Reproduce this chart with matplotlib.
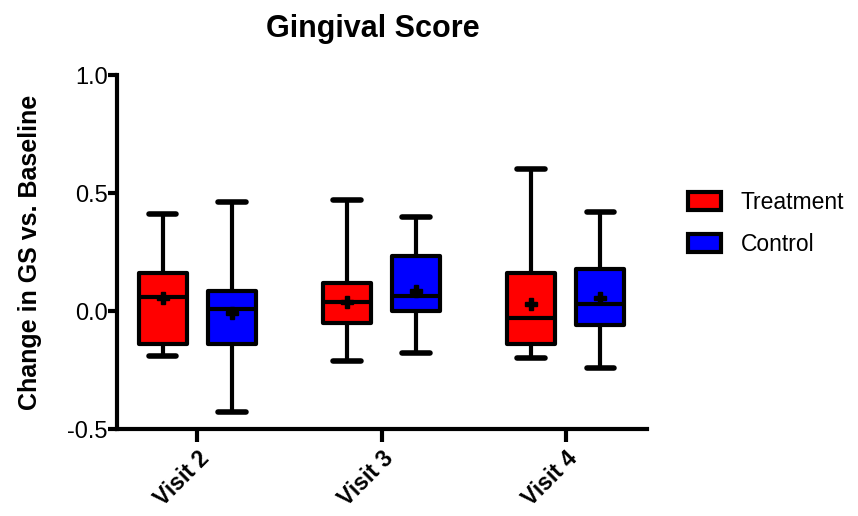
import numpy as np
import matplotlib.pyplot as plt
from matplotlib.patches import Patch

plt.rcParams['font.family'] = ['Liberation Sans', 'DejaVu Sans']

# --- data ---
visits = ["Visit 2", "Visit 3", "Visit 4"]
groups = ["Treatment", "Control"]
colors = ["#FF0000", "#0000FF"]

t_min = [-0.19, -0.21, -0.20]
t_q1 = [-0.14, -0.05, -0.14]
t_med = [0.06, 0.04, -0.03]
t_q3 = [0.16, 0.12, 0.16]
t_max = [0.41, 0.47, 0.60]
t_mean = [0.055, 0.04, 0.03]

c_min = [-0.43, -0.18, -0.24]
c_q1 = [-0.14, 0.00, -0.06]
c_med = [0.01, 0.065, 0.03]
c_q3 = [0.085, 0.235, 0.18]
c_max = [0.46, 0.40, 0.42]
c_mean = [-0.01, 0.085, 0.055]


def make_stats(mn, q1, med, q3, mx, mean):
    return [dict(whislo=a, q1=b, med=c, q3=d, whishi=e, mean=f, fliers=[])
            for a, b, c, d, e, f in zip(mn, q1, med, q3, mx, mean)]


stats = [make_stats(t_min, t_q1, t_med, t_q3, t_max, t_mean),
         make_stats(c_min, c_q1, c_med, c_q3, c_max, c_mean)]

fig = plt.figure(figsize=(8.58, 5.16), dpi=100)
ax = fig.add_axes([117 / 858, 1 - 429 / 516, 530 / 858, 354 / 516])

lw = 3.0
x = np.arange(len(visits))
offsets = [-0.1875, 0.1875]
for st, off, col in zip(stats, offsets, colors):
    ax.bxp(st, positions=x + off, widths=0.26, patch_artist=True,
           showmeans=True, showfliers=False,
           boxprops=dict(facecolor=col, edgecolor='black', linewidth=lw, joinstyle='round'),
           medianprops=dict(color='black', linewidth=lw),
           whiskerprops=dict(color='black', linewidth=lw, solid_capstyle='round'),
           capprops=dict(color='black', linewidth=lw + 1, solid_capstyle='round'),
           capwidths=0.15,
           meanprops=dict(marker='P', markerfacecolor='black', markeredgecolor='black',
                          markersize=9))

ax.set_xlim(-0.435, 2.44)
ax.set_ylim(-0.5, 1.0)
ax.set_yticks([-0.5, 0.0, 0.5, 1.0])
ax.set_yticklabels(["-0.5", "0.0", "0.5", "1.0"])
ax.set_xticks(x)
ax.set_xticklabels(visits, rotation=45, ha='right', rotation_mode='anchor',
                   fontweight='bold')

for s in ['top', 'right']:
    ax.spines[s].set_visible(False)
for s in ['left', 'bottom']:
    ax.spines[s].set_linewidth(lw)
    ax.spines[s].set_capstyle('projecting')
ax.tick_params(axis='y', direction='out', length=6.5, width=lw, labelsize=17, pad=0)
ax.tick_params(axis='x', direction='out', length=9, width=lw, labelsize=16.5, pad=4)

ax.set_ylabel("Change in GS vs. Baseline", fontsize=18, fontweight='bold', va='center')
ax.yaxis.set_label_coords(-0.164, 0.5)
fig.text(373 / 858, 1 - 29 / 516, "Gingival Score", ha='center', va='center',
         fontsize=22, fontweight='bold')

handles = [Patch(facecolor=c, edgecolor='black', linewidth=lw, label=g)
           for c, g in zip(colors, groups)]
fig.legend(handles=handles, loc='upper left', bbox_to_anchor=(688 / 858, 1 - 191 / 516),
           frameon=False, fontsize=16.5, handlelength=1.45, handleheight=0.78,
           handletextpad=0.85, labelspacing=0.83, borderaxespad=0, borderpad=0)

plt.savefig("out.png", dpi=100)
